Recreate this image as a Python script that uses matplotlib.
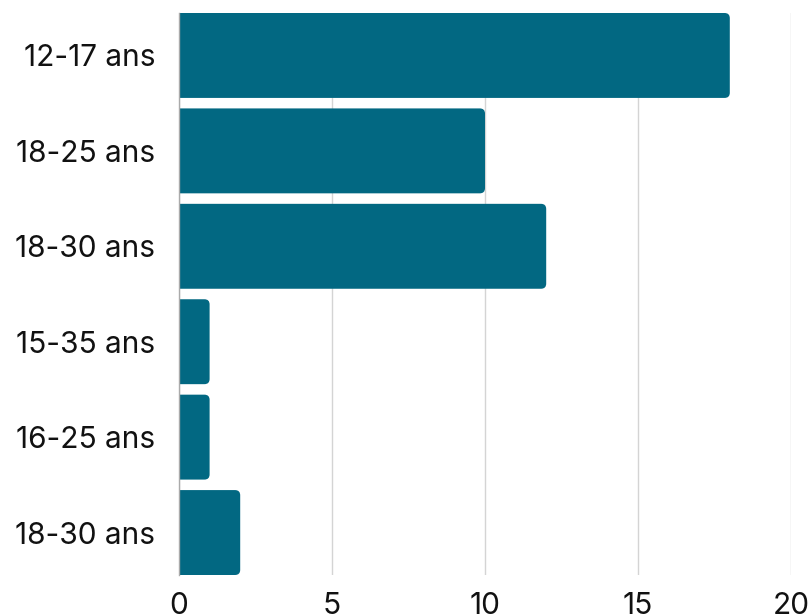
import matplotlib.pyplot as plt
from matplotlib.patches import FancyBboxPatch

# Data
categories = ["12-17 ans", "18-25 ans", "18-30 ans", "15-35 ans", "16-25 ans", "18-30 ans"]
values = [18, 10, 12, 1, 1, 2]
xticks = [0, 5, 10, 15, 20]

plt.rcParams['font.family'] = ['Inter', 'DejaVu Sans']

fig = plt.figure(figsize=(8.12, 6.16), dpi=100)
ax = fig.add_axes([179 / 812, 1 - 575 / 616, (791 - 179) / 812, (575 - 13) / 616])

bar_color = "#026882"
height = 0.89
positions = list(range(len(categories)))

# rounded bars, left corners hidden behind the axis edge
for pos, val in zip(positions, values):
    patch = FancyBboxPatch((-0.5, pos - height / 2), val + 0.5, height,
                           boxstyle="round,pad=0,rounding_size=0.17",
                           mutation_aspect=0.32,
                           facecolor=bar_color, edgecolor="none", zorder=3)
    ax.add_patch(patch)

ax.set_xlim(0, 20)
ax.set_ylim(len(categories) - 1 + height / 2, -height / 2)
ax.set_yticks(positions)
ax.set_yticklabels(categories)
ax.set_xticks(xticks)
ax.set_xticklabels([str(t) for t in xticks])

ax.grid(axis="x", color="#d4d4d4", linewidth=1, zorder=0)
for side in ["top", "right", "bottom"]:
    ax.spines[side].set_visible(False)
ax.spines["left"].set_color("#aaaaaa")
ax.spines["left"].set_linewidth(1)
ax.spines["left"].set_zorder(4)

ax.tick_params(axis="both", length=0, labelsize=21.5, colors="#111111")
ax.tick_params(axis="y", pad=17)
ax.tick_params(axis="x", pad=12)

fig.savefig("out.png", dpi=100)
